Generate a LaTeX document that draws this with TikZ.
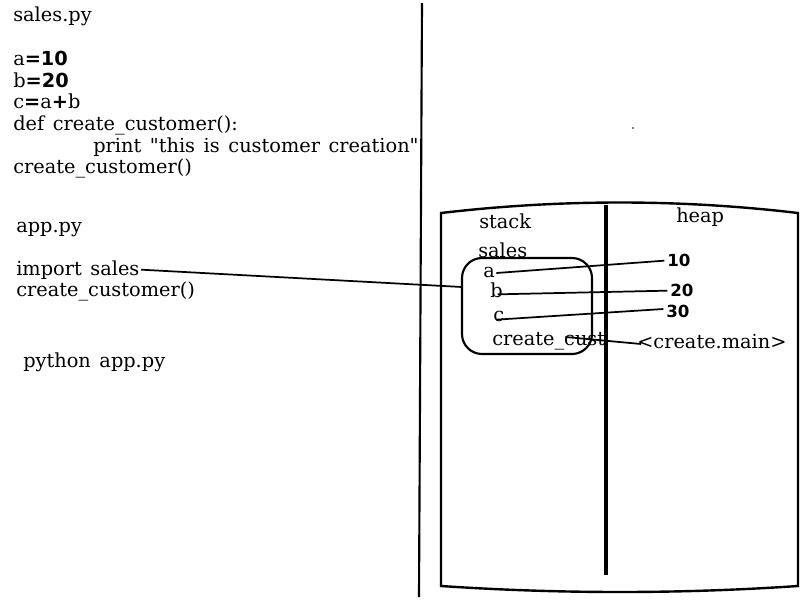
\documentclass[tikz,border=0pt]{standalone}
\usepackage{fontspec}
\setmainfont[Ligatures=TeXOff,WordSpace=1.4]{DejaVu Serif}
\newfontfamily\numfont{DejaVu Sans}
\begin{document}
\begin{tikzpicture}[x=0.75pt,y=-0.75pt,
  txt/.style={anchor=base west, inner sep=0pt, font=\fontsize{14.5}{16}\selectfont},
  num/.style={anchor=base west, inner sep=0pt, font=\numfont\bfseries\fontsize{12.5}{14}\selectfont},
  conn/.style={line width=1.3pt},
  heavy/.style={line width=1.6pt}]
\useasboundingbox (0,0) rectangle (800,600);
\fill[white] (0,0) rectangle (800,600);
% left code
\node[txt] (s0) at (13,21) {sales.py};
\node[txt] (s1) at (13,65) {a{\numfont\bfseries=10}};
\node[txt] (s2) at (13,87) {b{\numfont\bfseries=20}};
\node[txt] (s3) at (13,108) {c{\numfont\bfseries=}a{\numfont\bfseries+}b};
\node[txt] (s4) at (13,130) {def create\_customer():};
\node[txt] (s5) at (93,152) {print "this is customer creation"};
\node[txt] (s6) at (13,173) {create\_customer()};
\node[txt] (p0) at (16,232) {app.py};
\node[txt] (imp) at (16,275) {import sales};
\node[txt] (p2) at (16,296) {create\_customer()};
\node[txt] (p3) at (23,367) {python app.py};
% divider
\coordinate (dtop) at (422,3);
\coordinate (dbot) at (419,597);
\draw[heavy] (dtop) -- (dbot);
% memory container
\draw[line width=1.8pt] (441,213) .. controls (560,199) and (680,199) .. (798,213)
  -- (798,586) .. controls (680,594) and (560,594) .. (441,586) -- cycle;
\coordinate (itop) at (606,205);
\coordinate (ibot) at (606,575);
\draw[line width=2.4pt] (itop) -- (ibot);
\node[txt] (stack) at (479,228) {stack};
\node[txt] (heap) at (676,222) {heap};
\node[txt] (sales) at (478,257) {sales};
\draw[heavy, rounded corners=15] (462,258) rectangle (592,354);
\coordinate (fr) at (462,287);
\node[txt] (va) at (483,277) {a};
\node[txt] (vb) at (490,297) {b};
\node[txt] (vc) at (493,321) {c};
\node[txt] (vcc) at (492,345) {create\_cust};
\node[num] (n10) at (667,266) {10};
\node[num] (n20) at (670,296) {20};
\node[num] (n30) at (666,317) {30};
\node[txt] (cm) at (637,348) {<create.main>};
\fill (633,128) circle (0.8);
% connectors
\draw[conn] ([xshift=1pt,yshift=4pt]imp.base east) -- (fr);
\draw[conn] ([xshift=1pt,yshift=3pt]va.base east) -- ([xshift=-2pt,yshift=4pt]n10.base west);
\draw[conn] ([xshift=-4pt,yshift=2pt]vb.base east) -- ([xshift=-2pt,yshift=4pt]n20.base west);
\draw[conn] ([xshift=-6pt,yshift=1pt]vc.base east) -- ([xshift=-2pt,yshift=6pt]n30.base west);
\draw[conn] ([xshift=-30pt,yshift=6pt]vcc.base east) -- ([xshift=3pt,yshift=3pt]cm.base west);
\end{tikzpicture}
\end{document}
